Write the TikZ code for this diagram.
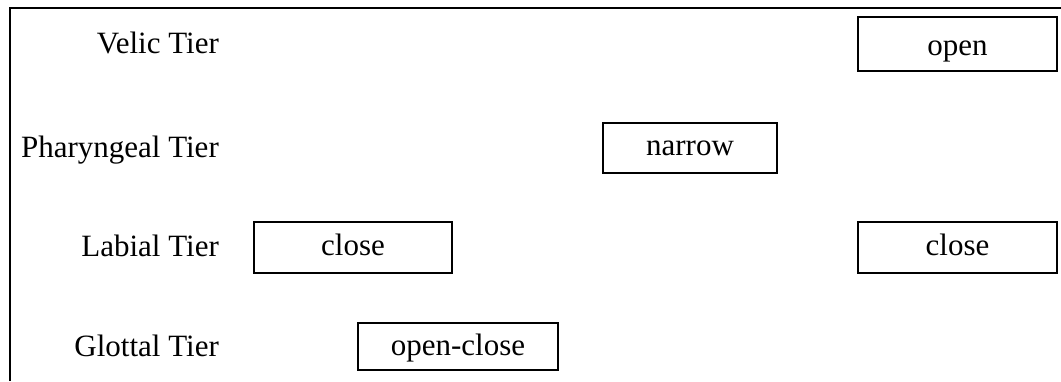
\documentclass[tikz,border=0pt]{standalone}
\usepackage{fontspec}
\setmainfont{Liberation Serif}
\begin{document}
\begin{tikzpicture}[x=1pt,y=-1pt,
  txt/.style={font=\fontsize{31}{36}\selectfont},
  box/.style={txt, draw, line width=1.8pt, inner sep=0pt},
  tier/.style={txt, anchor=base east, inner sep=0pt}]
\useasboundingbox (0,0) rectangle (1061,381);
\draw[line width=1.8pt] (10,381) -- (10,8) -- (1061,8);
% tier labels
\node[tier] (velic) at (219,53) {Velic Tier};
\node[tier] (phar) at (219,157) {Pharyngeal Tier};
\node[tier] (lab) at (219,256) {Labial Tier};
\node[tier] (glot) at (219,356) {Glottal Tier};
% boxes
\node[box, minimum width=199pt, text height=38pt, text depth=16pt] (open) at (957.5,44) {open};
\node[box, minimum width=174pt, text height=32pt, text depth=18pt] (narrow) at (690,148) {narrow};
\node[box, minimum width=198pt, text height=33pt, text depth=18pt] (close1) at (353,247.5) {close};
\node[box, minimum width=199pt, text height=33pt, text depth=18pt] (close2) at (957.5,247.5) {close};
\node[box, minimum width=200pt, text height=32pt, text depth=15pt] (oc) at (458,346.5) {open-close};
\end{tikzpicture}
\end{document}
